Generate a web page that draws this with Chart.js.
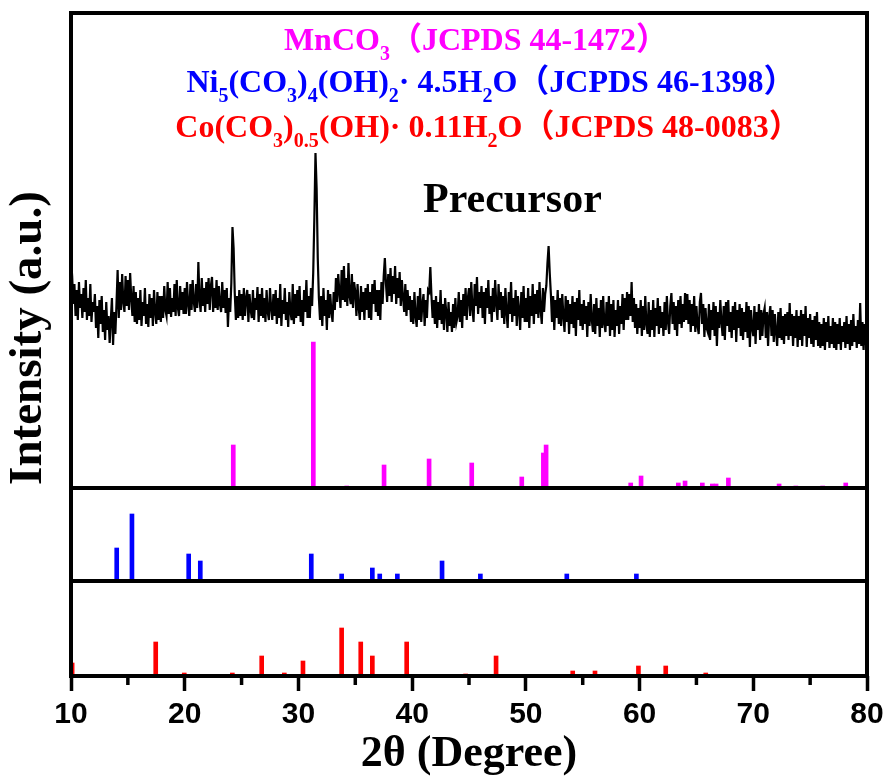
<!DOCTYPE html>
<html>
<head>
<meta charset="utf-8">
<script src="https://cdn.jsdelivr.net/npm/chart.js@4/dist/chart.umd.min.js"></script>
<style>
  html, body { margin: 0; padding: 0; background: #fff; }
  canvas { display: block; }
</style>
</head>
<body>
<canvas id="xrd" width="891" height="781"></canvas>
<script>
// precursor pattern, one row per degree, sampled every 0.1 degree from 10 to 80
var twoThetaStart = 10;
var twoThetaStep = 0.1;
var precursorCounts = [
  230, 212, 184, 204, 172, 198, 168, 206, 180, 194,
  170, 200, 176, 208, 168, 190, 172, 204, 166, 186,
  176, 194, 160, 182, 150, 188, 164, 192, 156, 178,
  148, 186, 158, 172, 145, 168, 190, 143, 176, 154,
  184, 218, 170, 206, 178, 214, 186, 176, 212, 182,
  208, 178, 215, 190, 172, 202, 166, 196, 164, 190,
  168, 198, 162, 186, 172, 200, 164, 184, 161, 194,
  170, 190, 162, 198, 176, 164, 196, 168, 192, 166,
  192, 170, 202, 178, 172, 206, 174, 200, 171, 190,
  176, 204, 172, 208, 180, 172, 202, 178, 196, 174,
  200, 174, 206, 184, 172, 204, 178, 208, 186, 176,
  204, 180, 226, 188, 176, 210, 182, 200, 176, 206,
  184, 210, 178, 202, 211, 176, 200, 180, 208, 178,
  202, 184, 176, 206, 180, 198, 175, 200, 161, 190,
  176, 205, 261, 240, 195, 168, 192, 170, 198, 172,
  194, 168, 200, 172, 190, 198, 166, 194, 178, 170,
  198, 168, 190, 178, 201, 166, 194, 172, 200, 170,
  190, 166, 198, 176, 168, 200, 180, 168, 194, 172,
  198, 164, 190, 170, 204, 162, 188, 174, 200, 168,
  186, 161, 196, 176, 168, 204, 164, 194, 170, 198,
  172, 202, 166, 188, 162, 198, 176, 208, 170, 192,
  170, 200, 182, 215, 270, 335, 300, 230, 190, 168,
  192, 162, 200, 172, 188, 158, 198, 170, 194, 176,
  166, 196, 178, 210, 186, 214, 196, 180, 218, 188,
  222, 186, 210, 182, 225, 192, 184, 214, 180, 206,
  196, 172, 204, 180, 168, 202, 176, 196, 168, 200,
  178, 204, 170, 196, 168, 204, 184, 208, 176, 198,
  172, 198, 168, 206, 184, 212, 230, 204, 186, 214,
  192, 220, 186, 212, 194, 222, 184, 210, 190, 216,
  182, 208, 190, 176, 204, 172, 198, 178, 192, 166,
  188, 164, 196, 172, 161, 192, 168, 200, 166, 184,
  194, 162, 188, 170, 198, 196, 221, 192, 170, 188,
  164, 192, 160, 186, 168, 198, 164, 184, 158, 190,
  176, 156, 186, 162, 176, 156, 184, 160, 190, 166,
  172, 196, 166, 188, 160, 194, 172, 200, 168, 190,
  200, 172, 206, 180, 166, 204, 182, 211, 174, 196,
  180, 202, 170, 196, 164, 200, 180, 208, 174, 192,
  166, 200, 176, 208, 184, 168, 204, 178, 196, 170,
  192, 164, 200, 176, 160, 196, 174, 206, 166, 190,
  172, 198, 162, 192, 178, 158, 196, 170, 202, 166,
  190, 166, 200, 160, 192, 172, 204, 164, 194, 174,
  198, 170, 206, 178, 164, 200, 176, 194, 202, 225,
  242, 215, 194, 166, 192, 158, 188, 170, 198, 164,
  190, 162, 194, 172, 156, 192, 166, 188, 154, 184,
  164, 192, 160, 186, 152, 190, 168, 198, 162, 184,
  158, 188, 164, 182, 151, 186, 162, 194, 168, 156,
  184, 154, 190, 162, 180, 151, 188, 160, 192, 164,
  156, 186, 162, 192, 152, 184, 158, 188, 151, 178,
  162, 188, 154, 182, 164, 194, 158, 190, 168, 196,
  168, 194, 172, 206, 166, 190, 160, 184, 154, 180,
  160, 188, 152, 182, 158, 192, 164, 154, 186, 151,
  178, 158, 188, 151, 180, 162, 190, 154, 182, 160,
  176, 152, 186, 158, 192, 166, 154, 182, 195, 164,
  186, 158, 182, 152, 188, 164, 192, 160, 184, 166,
  195, 168, 194, 164, 188, 156, 184, 162, 192, 156,
  182, 162, 154, 186, 195, 164, 184, 151, 180, 160,
  156, 184, 148, 178, 158, 186, 152, 182, 142, 176,
  160, 188, 166, 152, 182, 148, 186, 162, 188, 156,
  176, 150, 182, 158, 186, 146, 178, 160, 184, 152,
  180, 148, 176, 156, 186, 150, 182, 141, 178, 160,
  152, 182, 144, 176, 158, 184, 148, 178, 152, 174,
  180, 150, 176, 142, 172, 182, 152, 178, 146, 174,
  156, 142, 176, 150, 180, 148, 172, 144, 174, 152,
  176, 148, 185, 152, 174, 142, 172, 150, 178, 141,
  172, 148, 178, 142, 174, 152, 182, 141, 170, 150,
  174, 144, 168, 141, 172, 148, 176, 142, 166, 140,
  164, 142, 170, 138, 166, 146, 172, 140, 162, 144,
  170, 140, 166, 138, 164, 144, 170, 138, 162, 146,
  166, 140, 172, 144, 164, 138, 168, 142, 174, 146,
  162, 140, 168, 144, 185, 142, 166, 138, 164, 144,
  142
];

// MnCO3 JCPDS 44-1472
var mnPos = [24.27, 31.31, 34.25, 37.53, 41.49, 45.24, 49.64, 51.54, 51.78, 59.22, 60.13, 63.41, 64.0, 65.52, 66.40, 66.73, 67.81, 72.27, 73.74, 76.1, 78.13, 80.0];
var mnInt = [43, 146, 2, 23, 29, 25, 11, 35, 43, 5, 12, 5, 7, 5, 4, 4, 10, 4, 2, 2, 5, 1];

// Ni5(CO3)4(OH)2·4.5H2O JCPDS 46-1398
var niPos = [14.02, 15.36, 20.35, 21.37, 31.13, 33.8, 36.5, 37.15, 38.7, 42.63, 46.0, 53.6, 59.72];
var niInt = [33, 67, 27, 20, 27, 7, 13, 7, 7, 20, 7, 7, 7];

// Co(CO3)0.5(OH)·0.11H2O JCPDS 48-0083
var coPos = [10.1, 17.45, 19.96, 24.19, 26.77, 28.76, 30.4, 33.8, 35.48, 36.5, 39.52, 44.7, 47.38, 54.12, 56.08, 59.9, 62.3, 65.82];
var coInt = [13, 34, 3, 3, 20, 3, 15, 48, 34, 20, 34, 2, 20, 5, 5, 10, 10, 3];

var xTicks = [10, 20, 30, 40, 50, 60, 70, 80];
var xMinorTicks = [15, 25, 35, 45, 55, 65, 75];

function pairs(xs, ys) {
    var out = [];
    for (var i = 0; i < xs.length; i++) out.push({ x: xs[i], y: ys[i] });
    return out;
}

var curve = [];
for (var i = 0; i < precursorCounts.length; i++) {
    curve.push({ x: twoThetaStart + i * twoThetaStep, y: precursorCounts[i] });
}

var serif = '"Liberation Serif", "Times New Roman", "Noto Sans CJK SC", serif';

// text with subscripts, centred on cx
function drawRich(ctx, parts, cx, baseline, size, color) {
    var mainFont = 'bold ' + size + 'px ' + serif;
    var subFont = 'bold ' + Math.round(size * 0.62) + 'px ' + serif;
    var total = 0;
    parts.forEach(function (p) {
        ctx.font = p[1] ? subFont : mainFont;
        total += ctx.measureText(p[0]).width;
    });
    var x = cx - total / 2;
    ctx.fillStyle = color;
    ctx.textAlign = 'left';
    ctx.textBaseline = 'alphabetic';
    parts.forEach(function (p) {
        ctx.font = p[1] ? subFont : mainFont;
        ctx.fillText(p[0], x, baseline + (p[1] ? size * 0.32 : 0));
        x += ctx.measureText(p[0]).width;
    });
}

var decor = {
    id: 'decor',
    afterDatasetsDraw: function (chart) {
        var ctx = chart.ctx;
        var a = chart.chartArea;
        var sx = chart.scales.x;
        ctx.save();
        ctx.strokeStyle = '#000';
        ctx.lineWidth = 4;
        ctx.strokeRect(a.left, a.top, a.right - a.left, a.bottom - a.top);
        [chart.scales.yMn.bottom, chart.scales.yNi.bottom].forEach(function (y) {
            ctx.beginPath();
            ctx.moveTo(a.left, y);
            ctx.lineTo(a.right, y);
            ctx.stroke();
        });
        // minor ticks
        ctx.lineWidth = 3.5;
        xMinorTicks.forEach(function (v) {
            var px = sx.getPixelForValue(v);
            ctx.beginPath();
            ctx.moveTo(px, a.bottom);
            ctx.lineTo(px, a.bottom + 9);
            ctx.stroke();
        });

        drawRich(ctx, [['MnCO', 0], ['3', 1], ['（JCPDS 44-1472）', 0]], 476, 50, 32, '#ff00ff');
        drawRich(ctx, [['Ni', 0], ['5', 1], ['(CO', 0], ['3', 1], [')', 0], ['4', 1], ['(OH)', 0], ['2', 1],
            ['· 4.5H', 0], ['2', 1], ['O（JCPDS 46-1398）', 0]], 491, 92, 32, '#0000ff');
        drawRich(ctx, [['Co(CO', 0], ['3', 1], [')', 0], ['0.5', 1], ['(OH)· 0.11H', 0], ['2', 1],
            ['O（JCPDS 48-0083）', 0]], 488, 137, 32, '#ff0000');

        ctx.fillStyle = '#000';
        ctx.font = 'bold 42px ' + serif;
        ctx.textAlign = 'left';
        ctx.textBaseline = 'alphabetic';
        ctx.fillText('Precursor', 423, 212);

        ctx.translate(29, 338);
        ctx.rotate(-Math.PI / 2);
        ctx.textAlign = 'center';
        ctx.textBaseline = 'middle';
        ctx.font = 'bold 47px ' + serif;
        ctx.fillText('Intensity (a.u.)', 0, 0);
        ctx.restore();
    }
};

var hiddenY = function (weight, max, stackWeight) {
    return {
        type: 'linear', position: 'left', stack: 'xrd', stackWeight: stackWeight, weight: weight,
        min: 0, max: max,
        afterFit: function (s) { s.width = 0; },
        ticks: { display: false },
        grid: { display: false },
        border: { display: false }
    };
};

var stick = function (data, color, axis) {
    return {
        type: 'bar', data: data, yAxisID: axis, backgroundColor: color,
        borderWidth: 0, barThickness: 4, grouped: false
    };
};

new Chart(document.getElementById('xrd').getContext('2d'), {
    type: 'bar',
    data: {
        datasets: [
            {
                type: 'line', data: curve, yAxisID: 'yMn', borderColor: '#000', borderWidth: 2.2,
                pointRadius: 0, tension: 0, fill: false
            },
            stick(pairs(mnPos, mnInt), '#ff00ff', 'yMn'),
            stick(pairs(niPos, niInt), '#0000ff', 'yNi'),
            stick(pairs(coPos, coInt), '#ff0000', 'yCo')
        ]
    },
    options: {
        responsive: false,
        animation: false,
        layout: { padding: { left: 71, right: 24, top: 13, bottom: 0 } },
        plugins: { legend: { display: false }, tooltip: { enabled: false } },
        scales: {
            x: {
                type: 'linear', min: 10, max: 80, offset: false,
                afterFit: function (s) { s.height = 105; },
                afterBuildTicks: function (s) { s.ticks = xTicks.map(function (v) { return { value: v }; }); },
                grid: { display: true, drawOnChartArea: false, offset: false, tickLength: 15, tickWidth: 3.5, tickColor: '#000' },
                border: { display: false },
                ticks: {
                    color: '#000', padding: 6, maxRotation: 0,
                    font: { family: '"Liberation Sans", Arial, sans-serif', size: 30, weight: 'bold' }
                },
                title: {
                    display: true, text: '2θ (Degree)', color: '#000',
                    padding: { top: 0, bottom: 2 },
                    font: { family: serif, size: 44, weight: 'bold', lineHeight: 1.1 }
                }
            },
            yCo: hiddenY(1, 95, 95),
            yNi: hiddenY(2, 93, 93),
            yMn: hiddenY(3, 475, 475)
        }
    },
    plugins: [decor]
});
</script>
</body>
</html>
